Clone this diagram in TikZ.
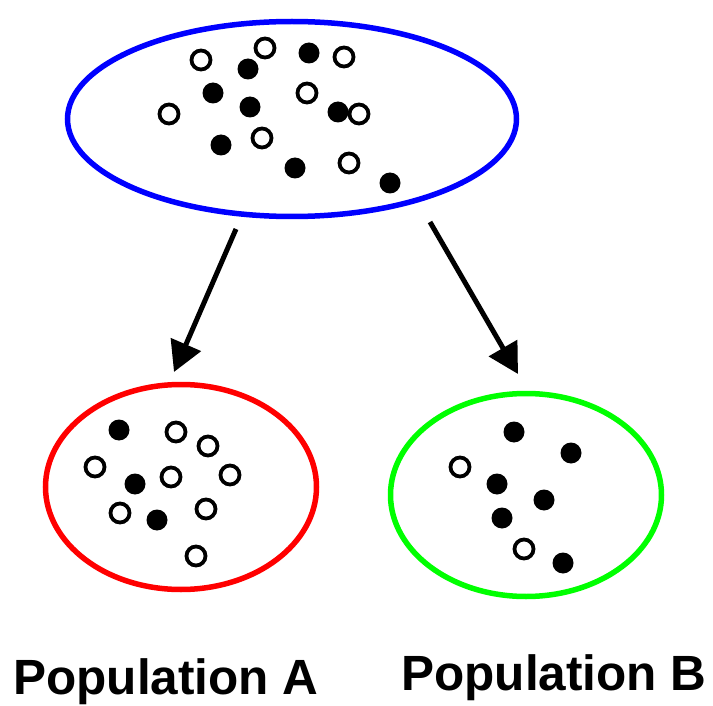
\documentclass[tikz,border=0pt]{standalone}
\usepackage{fontspec}
\setmainfont{Liberation Sans}
\usetikzlibrary{shapes.geometric,arrows.meta}
\definecolor{popblue}{RGB}{0,0,255}
\definecolor{popred}{RGB}{255,0,0}
\definecolor{popgreen}{RGB}{0,255,0}
\tikzset{
  pool/.style={draw, ellipse, line width=5.5pt, inner sep=0pt},
  full/.style={circle, fill=black, inner sep=0pt, minimum size=21pt},
  hollow/.style={circle, draw=black, fill=white, line width=3.8pt, inner sep=0pt, minimum size=19pt},
  flow/.style={line width=5pt, -{Triangle[length=30pt,width=32pt]}},
  poplabel/.style={anchor=base, font=\bfseries\fontsize{49.5}{56}\selectfont, inner sep=0pt}
}
\begin{document}
\begin{tikzpicture}[x=1pt,y=-1pt]
\useasboundingbox (0,0) rectangle (713,706);
% top pool
\node[pool, draw=popblue, minimum width=449pt, minimum height=195pt] (top) at (292,119) {};
\node[hollow] (t1) at (201,60) {};
\node[hollow] (t2) at (265,48) {};
\node[full] (t3) at (309,53) {};
\node[hollow] (t4) at (344,57) {};
\node[full] (t5) at (248,69) {};
\node[full] (t6) at (213,93) {};
\node[hollow] (t7) at (307,93) {};
\node[full] (t8) at (250,107) {};
\node[full] (t9) at (338,112) {};
\node[hollow] (t10) at (359,114) {};
\node[hollow] (t11) at (169,114) {};
\node[full] (t12) at (221,145) {};
\node[hollow] (t13) at (262,138) {};
\node[full] (t14) at (295,168) {};
\node[hollow] (t15) at (349,163) {};
\node[full] (t16) at (390,183) {};
% population A
\node[pool, draw=popred, minimum width=271pt, minimum height=205pt] (popA) at (181,487) {};
\node[full] (a1) at (119,430) {};
\node[hollow] (a2) at (176,432) {};
\node[hollow] (a3) at (208,446) {};
\node[hollow] (a4) at (95,467) {};
\node[full] (a5) at (135,484) {};
\node[hollow] (a6) at (171,477) {};
\node[hollow] (a7) at (230,475) {};
\node[hollow] (a8) at (120,513) {};
\node[full] (a9) at (157,520) {};
\node[hollow] (a10) at (206,509) {};
\node[hollow] (a11) at (196,556) {};
% population B
\node[pool, draw=popgreen, minimum width=271pt, minimum height=203pt] (popB) at (526,495) {};
\node[full] (b1) at (514,432) {};
\node[full] (b2) at (571,453) {};
\node[hollow] (b3) at (460,467) {};
\node[full] (b4) at (497,484) {};
\node[full] (b5) at (544,500) {};
\node[full] (b6) at (502,518) {};
\node[hollow] (b7) at (524,549) {};
\node[full] (b8) at (563,563) {};
% arrows
\coordinate (sA) at (236,229);
\coordinate (eA) at (174,372);
\coordinate (sB) at (430,222);
\coordinate (eB) at (518,374);
\draw[flow] (sA) -- (eA);
\draw[flow] (sB) -- (eB);
% labels
\node[poplabel] (labA) at (166,694) {Population A};
\node[poplabel] (labB) at (554,690) {Population B};
\end{tikzpicture}
\end{document}
